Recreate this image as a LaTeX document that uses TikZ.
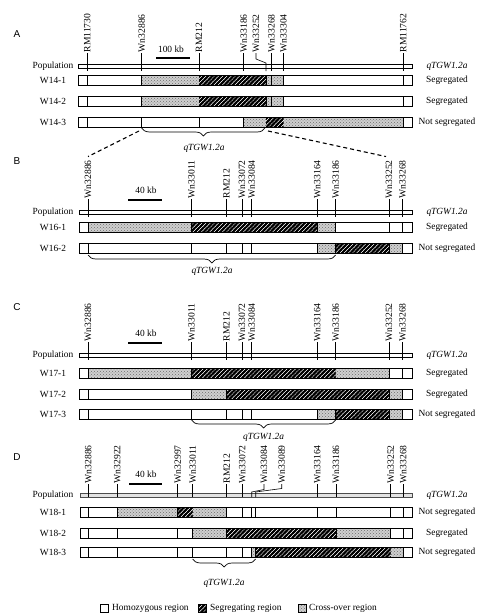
\documentclass[tikz,border=0pt]{standalone}
\usepackage{fontspec}
\setmainfont{Liberation Serif}
\newfontfamily\panelfont{Liberation Sans}
\usetikzlibrary{patterns,decorations.pathreplacing}
\pgfdeclarepatternformonly{myhatch}{\pgfqpoint{-2pt}{-2pt}}{\pgfqpoint{6.2pt}{6.2pt}}{\pgfqpoint{4.2pt}{4.2pt}}{\pgfsetlinewidth{1.95pt}\pgfpathmoveto{\pgfqpoint{-2pt}{-2pt}}\pgfpathlineto{\pgfqpoint{6.2pt}{6.2pt}}\pgfusepath{stroke}}
\tikzset{
 mk/.style={line width=0.6pt},
 rowframe/.style={line width=0.6pt},
 xofill/.style={fill=gray!38},
 xodots/.style={pattern=crosshatch dots, pattern color=gray!85!black},
 hatchfill/.style={pattern=myhatch, pattern color=black},
 mlab/.style={rotate=90, anchor=west, inner sep=0.6pt, font=\fontsize{9.6}{10}\selectfont},
 rowlab/.style={font=\fontsize{9.4}{10}\selectfont, inner sep=0},
 panlab/.style={font=\panelfont\fontsize{10}{10}\selectfont, inner sep=0},
 brc/.style={decorate, decoration={brace, mirror, amplitude=8pt}, line width=0.7pt},
 dashl/.style={dash pattern=on 4pt off 3pt, line width=1.1pt},
 scalebar/.style={line width=2.4pt},
}
\newcommand{\chrrow}[6]{%
 \foreach \a/\b in {#4}{\fill[xofill] (\a,#1-5) rectangle (\b,#1+5); \fill[xodots] (\a,#1-5) rectangle (\b,#1+5);}
 \foreach \m in {#6}{\draw[mk] (\m,#1-5) -- (\m,#1+5);}
 \foreach \a/\b in {#5}{\fill[white] (\a,#1-5) rectangle (\b,#1+5); \fill[hatchfill] (\a,#1-5) rectangle (\b,#1+5);}
 \draw[rowframe] (#2,#1-5) rectangle (#3,#1+5);
}
\newcommand{\mkrlab}[5]{%
 \node[mlab] (#1) at (#2,#3) {#4};
 \draw[mk] (#1.west) -- (#2,#5);
}
\begin{document}
\begin{tikzpicture}[x=1pt,y=-1pt]
\useasboundingbox (0,0) rectangle (502,616);
% ================= Panel A
\node[panlab] (pA) at (17,34) {A};
\draw[rowframe, fill=white] (78,64) rectangle (412,68);
\mkrlab{a1}{87.3}{53}{RM11730}{71}
\mkrlab{a2}{141.7}{53}{Wn32886}{71}
\mkrlab{a3}{199}{53}{RM212}{71}
\mkrlab{a4}{243.7}{53}{Wn33186}{71}
\node[mlab] (a5) at (256,53) {Wn33252};
\draw[mk] (a5.west) -- (256,59) -- (266,63) -- (266,71);
\mkrlab{a6}{271.5}{53}{Wn33268}{71}
\mkrlab{a7}{283.5}{53}{Wn33304}{71}
\mkrlab{a8}{403.3}{53}{RM11762}{71}
\node[rowlab] (sA) at (171,49) {100 kb};
\draw[scalebar] (156,58) -- (190,58);
\node[rowlab] (lA0) at (53,66) {Population};
\node[rowlab] (rA0) at (447,66) {\textit{qTGW1.2a}};
\chrrow{80}{78}{412}{141.7/199,266/283.5}{199/266}{87.3,141.7,199,243.7,266,271.5,283.5,403.3}
\chrrow{101}{78}{412}{141.7/199,266/283.5}{199/266}{87.3,141.7,199,243.7,266,271.5,283.5,403.3}
\chrrow{122}{78}{412}{243.7/266,283.5/403.3}{266/283.5}{87.3,141.7,199,243.7,266,271.5,283.5,403.3}
\node[rowlab] (lA1) at (53,80) {W14-1};
\node[rowlab] (lA2) at (53,101) {W14-2};
\node[rowlab] (lA3) at (53,122) {W14-3};
\node[rowlab] (rA1) at (447,80) {Segregated};
\node[rowlab] (rA2) at (447,101) {Segregated};
\node[rowlab] (rA3) at (447,122) {Not segregated};
\draw[brc] (141.7,128) -- (265,128);
\node[rowlab] (qA) at (204,148) {\textit{qTGW1.2a}};
\coordinate (aBL) at (139,131);
\coordinate (aBR) at (268,131);
% ================= Panel B
\node[panlab] (pB) at (17,161) {B};
\draw[rowframe, fill=white] (79,210) rectangle (412,214);
\mkrlab{b1}{88}{199}{Wn32886}{217}
\mkrlab{b2}{191.5}{199}{Wn33011}{217}
\mkrlab{b3}{226.5}{199}{RM212}{217}
\mkrlab{b4}{242}{199}{Wn33072}{217}
\mkrlab{b5}{251.7}{199}{Wn33084}{217}
\mkrlab{b6}{317.3}{199}{Wn33164}{217}
\mkrlab{b7}{335.7}{199}{Wn33186}{217}
\mkrlab{b8}{389}{199}{Wn33252}{217}
\mkrlab{b9}{402.5}{199}{Wn33268}{217}
\node[rowlab] (sB) at (146,190) {40 kb};
\draw[scalebar] (128,200) -- (162,200);
\node[rowlab] (lB0) at (53,212) {Population};
\node[rowlab] (rB0) at (447,212) {\textit{qTGW1.2a}};
\chrrow{227}{79}{412}{88/191.5,317.3/335.7}{191.5/317.3}{88,191.5,226.5,242,251.7,317.3,335.7,389,402.5}
\chrrow{248}{79}{412}{317.3/335.7,389/402.5}{335.7/389}{88,191.5,226.5,242,251.7,317.3,335.7,389,402.5}
\node[rowlab] (lB1) at (53,227) {W16-1};
\node[rowlab] (lB2) at (53,248) {W16-2};
\node[rowlab] (rB1) at (447,227) {Segregated};
\node[rowlab] (rB2) at (447,248) {Not segregated};
\draw[brc] (88,255) -- (335.7,255);
\node[rowlab] (qB) at (212,271) {\textit{qTGW1.2a}};
\draw[dashl] (aBL) -- ([yshift=3pt]b1.east);
\draw[dashl] (aBR) -- ([xshift=-3pt,yshift=3pt]b8.east);
% ================= Panel C
\node[panlab] (pC) at (17,307) {C};
\draw[rowframe, fill=white] (79,353) rectangle (412,357);
\mkrlab{c1}{88}{342}{Wn32886}{360}
\mkrlab{c2}{191.5}{342}{Wn33011}{360}
\mkrlab{c3}{226.5}{342}{RM212}{360}
\mkrlab{c4}{242}{342}{Wn33072}{360}
\mkrlab{c5}{251.7}{342}{Wn33084}{360}
\mkrlab{c6}{317.3}{342}{Wn33164}{360}
\mkrlab{c7}{335.7}{342}{Wn33186}{360}
\mkrlab{c8}{389}{342}{Wn33252}{360}
\mkrlab{c9}{402.5}{342}{Wn33268}{360}
\node[rowlab] (sC) at (146,333) {40 kb};
\draw[scalebar] (128,343) -- (162,343);
\node[rowlab] (lC0) at (53,355) {Population};
\node[rowlab] (rC0) at (447,355) {\textit{qTGW1.2a}};
\chrrow{373}{79}{412}{88/191.5,335.7/389}{191.5/335.7}{88,191.5,226.5,242,251.7,317.3,335.7,389,402.5}
\chrrow{394}{79}{412}{191.5/226.5,389/402.5}{226.5/389}{88,191.5,226.5,242,251.7,317.3,335.7,389,402.5}
\chrrow{414}{79}{412}{317.3/335.7,389/402.5}{335.7/389}{88,191.5,226.5,242,251.7,317.3,335.7,389,402.5}
\node[rowlab] (lC1) at (53,373) {W17-1};
\node[rowlab] (lC2) at (53,394) {W17-2};
\node[rowlab] (lC3) at (53,414) {W17-3};
\node[rowlab] (rC1) at (447,373) {Segregated};
\node[rowlab] (rC2) at (447,394) {Segregated};
\node[rowlab] (rC3) at (447,414) {Not segregated};
\draw[brc] (191.5,420) -- (335.7,420);
\node[rowlab] (qC) at (263.6,437) {\textit{qTGW1.2a}};
% ================= Panel D
\node[panlab] (pD) at (17,457) {D};
\fill[gray!22] (80,493) rectangle (412,497);
\draw[gray!60!black, line width=0.5pt] (80,493) rectangle (412,497);
\mkrlab{d1}{88.3}{484}{Wn32886}{497}
\mkrlab{d2}{117.3}{484}{Wn32922}{497}
\mkrlab{d3}{177.7}{484}{Wn32997}{497}
\mkrlab{d4}{192.7}{484}{Wn33011}{497}
\mkrlab{d5}{226.7}{484}{RM212}{497}
\mkrlab{d6}{242.3}{484}{Wn33072}{497}
\node[mlab] (d7) at (264,484) {Wn33084};
\draw[mk] (d7.west) -- (264,489.5) -- (251.7,492) -- (251.7,497);
\node[mlab] (d8) at (281.7,484) {Wn33089};
\draw[mk] (d8.west) -- (281.7,488.5) -- (255.7,492) -- (255.7,497);
\mkrlab{d9}{317.3}{484}{Wn33164}{497}
\mkrlab{d10}{336}{484}{Wn33186}{497}
\mkrlab{d11}{390.7}{484}{Wn33252}{497}
\mkrlab{d12}{403.3}{484}{Wn33268}{497}
\node[rowlab] (sD) at (146,474) {40 kb};
\draw[scalebar] (129,484) -- (162,484);
\node[rowlab] (lD0) at (53,495) {Population};
\node[rowlab] (rD0) at (447,495) {\textit{qTGW1.2a}};
\chrrow{512}{80}{412}{117.3/177.7,192.7/226.7}{177.7/192.7}{88.3,117.3,177.7,192.7,226.7,242.3,251.7,255.7,317.3,336,390.7,403.3}
\chrrow{533}{80}{412}{192.7/226.7,336/390.7}{226.7/336}{88.3,117.3,177.7,192.7,226.7,242.3,251.7,255.7,317.3,336,390.7,403.3}
\chrrow{552}{80}{412}{251.7/255.7,390.7/403.3}{255.7/390.7}{88.3,117.3,177.7,192.7,226.7,242.3,251.7,255.7,317.3,336,390.7,403.3}
\node[rowlab] (lD1) at (53,512) {W18-1};
\node[rowlab] (lD2) at (53,533) {W18-2};
\node[rowlab] (lD3) at (53,552) {W18-3};
\node[rowlab] (rD1) at (447,512) {Not segregated};
\node[rowlab] (rD2) at (447,533) {Segregated};
\node[rowlab] (rD3) at (447,552) {Not segregated};
\draw[brc] (192.7,559) -- (255.7,559);
\node[rowlab] (qD) at (224,583) {\textit{qTGW1.2a}};
% ================= Legend
\draw[rowframe, fill=white] (100,604) rectangle (108,612);
\node[rowlab, anchor=west] (g1) at (112,608) {Homozygous region};
\fill[white] (198,604) rectangle (206,612);
\fill[hatchfill] (198,604) rectangle (206,612);
\draw[rowframe] (198,604) rectangle (206,612);
\node[rowlab, anchor=west] (g2) at (210,608) {Segregating region};
\fill[xofill] (298,604) rectangle (306,612);
\fill[xodots] (298,604) rectangle (306,612);
\draw[rowframe] (298,604) rectangle (306,612);
\node[rowlab, anchor=west] (g3) at (309,608) {Cross-over region};
\end{tikzpicture}
\end{document}
